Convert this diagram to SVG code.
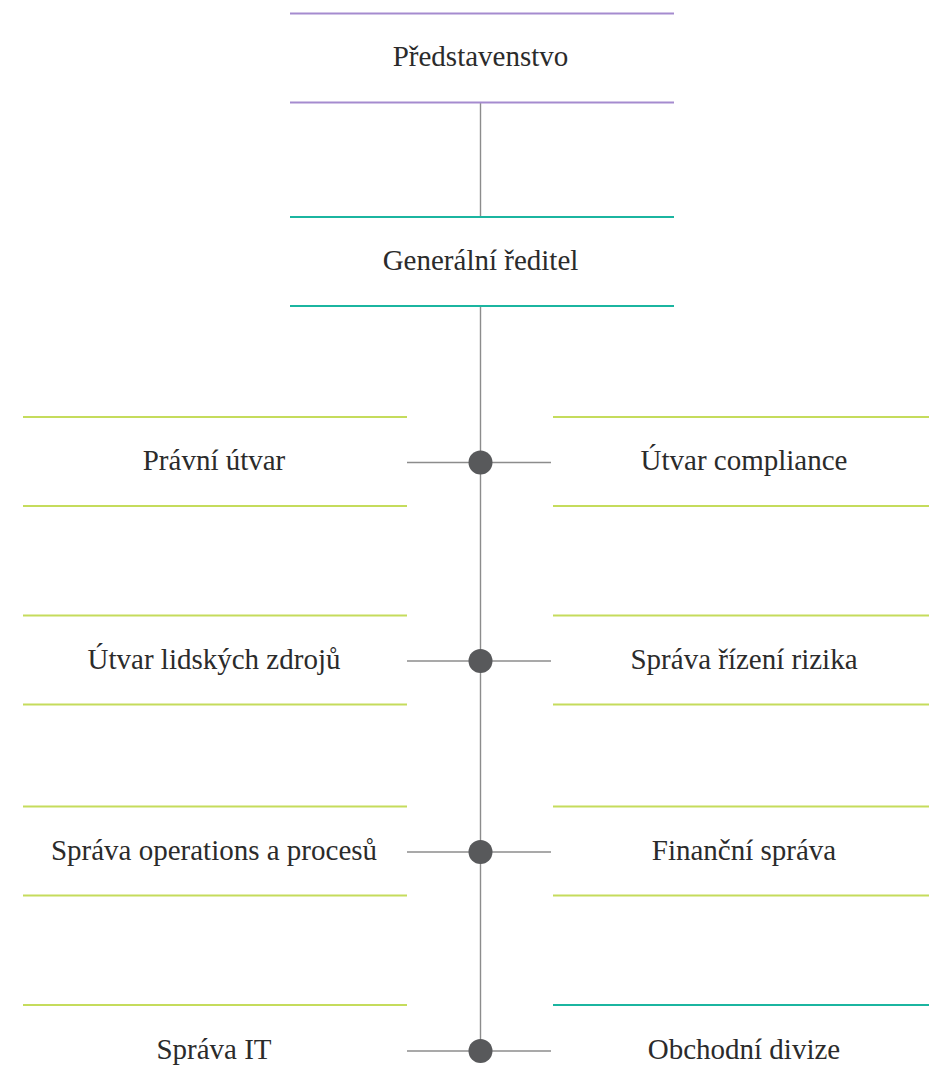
<svg xmlns="http://www.w3.org/2000/svg" width="929" height="1090" viewBox="0 0 929 1090">
<style>
.t{font-family:'Liberation Serif','Times New Roman','DejaVu Serif',serif;font-size:29px;fill:#2b2b2b;text-anchor:middle}
.p{stroke:#a58bcf;stroke-width:2}
.c{stroke:#1bb5a0;stroke-width:2}
.g{stroke:#c5dc5c;stroke-width:2}
.k{stroke:#8c8c8c;stroke-width:1.4;fill:none}
.d{fill:#58595b}
</style>
<rect width="929" height="1090" fill="#fff"/>
<g id="connectors">
<line class="k" x1="480.5" y1="102" x2="480.5" y2="217"/>
<line class="k" x1="480.5" y1="306" x2="480.5" y2="1051"/>
<line class="k" x1="407" y1="462.5" x2="551" y2="462.5"/>
<line class="k" x1="407" y1="661" x2="551" y2="661"/>
<line class="k" x1="407" y1="852" x2="551" y2="852"/>
<line class="k" x1="407" y1="1051" x2="551" y2="1051"/>
<circle class="d" cx="480.5" cy="462.5" r="12"/>
<circle class="d" cx="480.5" cy="661" r="12"/>
<circle class="d" cx="480.5" cy="852" r="12"/>
<circle class="d" cx="480.5" cy="1051" r="12"/>
</g>
<g id="predstavenstvo">
<line class="p" x1="290" y1="13.5" x2="674" y2="13.5"/>
<line class="p" x1="290" y1="102.5" x2="674" y2="102.5"/>
<text class="t" x="480.5" y="65.5" font-family="Liberation Serif, serif">Představenstvo</text>
</g>
<g id="generalni-reditel">
<line class="c" x1="290" y1="217" x2="674" y2="217"/>
<line class="c" x1="290" y1="306" x2="674" y2="306"/>
<text class="t" x="480.5" y="269.5">Generální ředitel</text>
</g>
<g id="pravni-utvar">
<line class="g" x1="23" y1="417" x2="407" y2="417"/>
<line class="g" x1="23" y1="506" x2="407" y2="506"/>
<text class="t" x="214" y="470">Právní útvar</text>
</g>
<g id="utvar-compliance">
<line class="g" x1="553" y1="417" x2="929" y2="417"/>
<line class="g" x1="553" y1="506" x2="929" y2="506"/>
<text class="t" x="744" y="470">Útvar compliance</text>
</g>
<g id="utvar-lidskych-zdroju">
<line class="g" x1="23" y1="615.5" x2="407" y2="615.5"/>
<line class="g" x1="23" y1="704.5" x2="407" y2="704.5"/>
<text class="t" x="214" y="668.5">Útvar lidských zdrojů</text>
</g>
<g id="sprava-rizeni-rizika">
<line class="g" x1="553" y1="615.5" x2="929" y2="615.5"/>
<line class="g" x1="553" y1="704.5" x2="929" y2="704.5"/>
<text class="t" x="744" y="668.5">Správa řízení rizika</text>
</g>
<g id="sprava-operations">
<line class="g" x1="23" y1="806.5" x2="407" y2="806.5"/>
<line class="g" x1="23" y1="895.5" x2="407" y2="895.5"/>
<text class="t" x="214" y="859.5">Správa operations a procesů</text>
</g>
<g id="financni-sprava">
<line class="g" x1="553" y1="806.5" x2="929" y2="806.5"/>
<line class="g" x1="553" y1="895.5" x2="929" y2="895.5"/>
<text class="t" x="744" y="859.5">Finanční správa</text>
</g>
<g id="sprava-it">
<line class="g" x1="23" y1="1005" x2="407" y2="1005"/>
<text class="t" x="214" y="1058.5">Správa IT</text>
</g>
<g id="obchodni-divize">
<line class="c" x1="553" y1="1005" x2="929" y2="1005"/>
<text class="t" x="744" y="1058.5">Obchodní divize</text>
</g>
</svg>
